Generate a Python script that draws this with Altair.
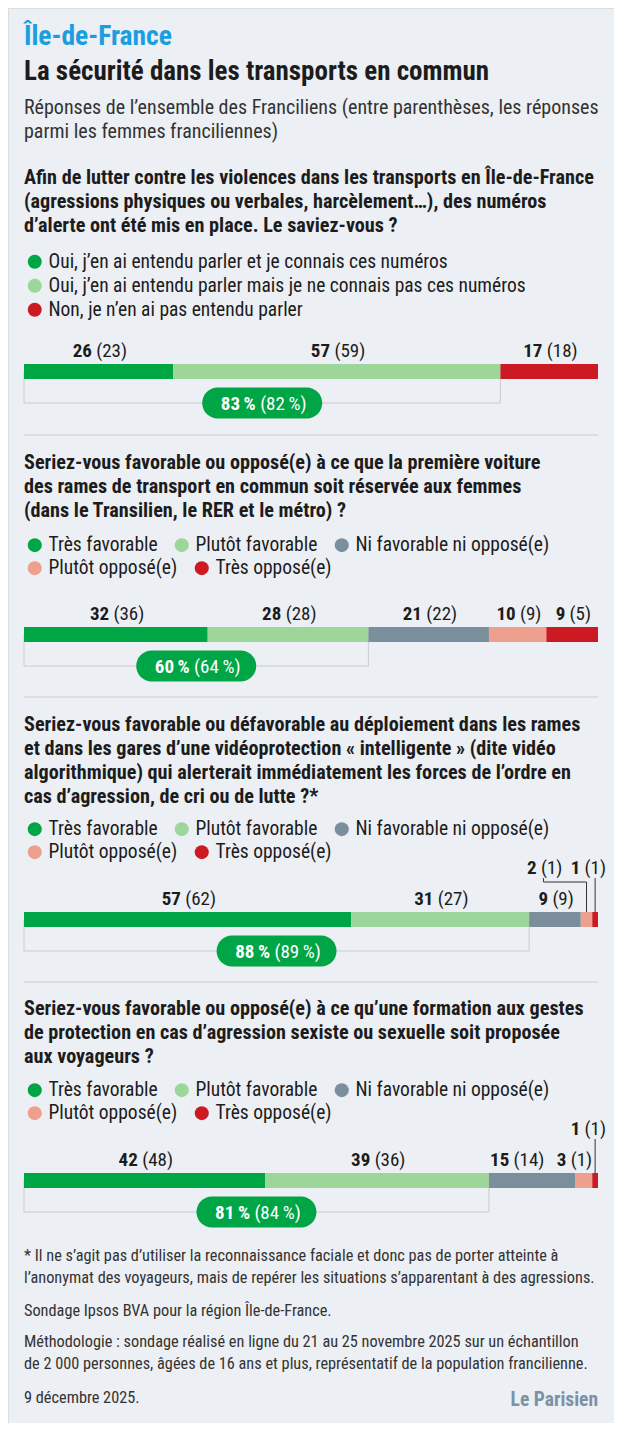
import altair as alt
import pandas as pd

FONT = "Roboto Condensed, Liberation Sans Narrow, DejaVu Sans Condensed, sans-serif"

# ---------------- content ----------------
kicker = "Île-de-France"
title = "La sécurité dans les transports en commun"
subtitle = ["Réponses de l’ensemble des Franciliens (entre parenthèses, les réponses",
            "parmi les femmes franciliennes)"]

questions = [
    ["Afin de lutter contre les violences dans les transports en Île-de-France",
     "(agressions physiques ou verbales, harcèlement…), des numéros",
     "d’alerte ont été mis en place. Le saviez-vous ?"],
    ["Seriez-vous favorable ou opposé(e) à ce que la première voiture",
     "des rames de transport en commun soit réservée aux femmes",
     "(dans le Transilien, le RER et le métro) ?"],
    ["Seriez-vous favorable ou défavorable au déploiement dans les rames",
     "et dans les gares d’une vidéoprotection « intelligente » (dite vidéo",
     "algorithmique) qui alerterait immédiatement les forces de l’ordre en",
     "cas d’agression, de cri ou de lutte ?*"],
    ["Seriez-vous favorable ou opposé(e) à ce qu’une formation aux gestes",
     "de protection en cas d’agression sexiste ou sexuelle soit proposée",
     "aux voyageurs ?"],
]

cats_q1 = ["Oui, j’en ai entendu parler et je connais ces numéros",
           "Oui, j’en ai entendu parler mais je ne connais pas ces numéros",
           "Non, je n’en ai pas entendu parler"]
cats_fav = ["Très favorable", "Plutôt favorable", "Ni favorable ni opposé(e)",
            "Plutôt opposé(e)", "Très opposé(e)"]
colors_q1 = ["#00a546", "#9dd69a", "#cc1a22"]
colors_fav = ["#00a546", "#9dd69a", "#7a8e9c", "#ee9f8e", "#cc1a22"]

values_all = [[26, 57, 17], [32, 28, 21, 10, 9], [57, 31, 9, 2, 1], [42, 39, 15, 3, 1]]
values_women = [[23, 59, 18], [36, 28, 22, 9, 5], [62, 27, 9, 1, 1], [48, 36, 14, 1, 1]]
total_all = [83, 60, 88, 81]
total_women = [82, 64, 89, 84]

footnote = ["* Il ne s’agit pas d’utiliser la reconnaissance faciale et donc pas de porter atteinte à",
            "l’anonymat des voyageurs, mais de repérer les situations s’apparentant à des agressions."]
source = ["Sondage Ipsos BVA pour la région Île-de-France."]
method = ["Méthodologie : sondage réalisé en ligne du 21 au 25 novembre 2025 sur un échantillon",
          "de 2 000 personnes, âgées de 16 ans et plus, représentatif de la population francilienne."]
date = ["9 décembre 2025."]
logo = ["Le Parisien"]

# ---------------- layout ----------------
W, H = 606, 1415
X0, X1 = 16, 590
PPU = (X1 - X0) / 100.0
XS = alt.Scale(domain=[0, 100], range=[X0, X1])
BG = "#eceff3"
DARK = "#1c1c1c"
GREY_TXT = "#333333"

BAR_TOP = [356, 619, 904, 1165]
Q_BASE = [176, 461, 723, 1007]
LEG_CENTER = [254, 537, 821, 1082]
LEG_ROW = 23
DIV_Y = [427, 689, 974]
BAR_H = 15
BRACKET = 39        # bracket bottom below bar top
PILL_H = 31
PILL_W = 120

LBL = 19            # value label font size
LEG_FS = 19.5
LEG_BOX = 20        # legend entry height
Q_FS = 20.2
SUB_FS = 20
FOOT_FS = 16.3

EM = {**{d: 0.5 for d in "0123456789"}, " ": 0.23, "\u2009": 0.14,
      "(": 0.26, ")": 0.26, "%": 0.64}


def tw(s, size, bold=False):
    return sum(EM.get(c, 0.5) for c in s) * size * (1.04 if bold else 1.0)


def text_block(lines, x, y, size, weight="normal", color=DARK, lh=24, align="left"):
    df = pd.DataFrame({"t": ["\n".join(lines)]})
    return alt.Chart(df).mark_text(
        align=align, baseline="alphabetic", font=FONT, fontSize=size,
        fontWeight=weight, color=color, lineBreak="\n", lineHeight=lh
    ).encode(text="t:N", x=alt.value(x), y=alt.value(y))


def split_label(num, rest, size):
    return tw(num, size, True), tw(" ", size), tw(rest, size)


def legend(ytop, vertical):
    return alt.Legend(
        orient="none", legendX=17, legendY=ytop,
        direction="vertical" if vertical else "horizontal",
        symbolType="circle", symbolSize=196, symbolStrokeWidth=0, symbolOpacity=1,
        labelFont=FONT, labelFontSize=LEG_FS, labelColor=DARK, labelOffset=4,
        columnPadding=14, rowPadding=LEG_ROW - LEG_BOX, title=None, labelLimit=0, padding=0,
    )


layers = []

# header
layers.append(text_block([kicker], X0, 37, 27.5, "bold", "#1a9ee0"))
layers.append(text_block([title], X0, 72, 27, "bold", DARK))
layers.append(text_block(subtitle, X0, 106, SUB_FS, "normal", GREY_TXT, lh=24))

for qi in range(4):
    top = BAR_TOP[qi]
    vals = values_all[qi]
    wv = values_women[qi]
    cats = cats_q1 if qi == 0 else cats_fav
    cols = colors_q1 if qi == 0 else colors_fav

    layers.append(text_block(questions[qi], X0, Q_BASE[qi], Q_FS, "bold", DARK, lh=24))

    starts, ends, acc = [], [], 0
    for v in vals:
        starts.append(acc)
        acc += v
        ends.append(acc)

    pos = vals[0] + vals[1]
    # bracket
    layers.append(
        alt.Chart(pd.DataFrame({"a": [0], "b": [pos]})).mark_rect(
            fillOpacity=0, stroke="#c8cdd3", strokeWidth=1
        ).encode(x=alt.X("a:Q", scale=XS, axis=None), x2="b:Q",
                 y=alt.value(top + 7), y2=alt.value(top + BRACKET))
    )

    # bar segments + legend (one legend row per group of categories)
    bar_df = pd.DataFrame({"cat": cats, "start": starts, "end": ends})
    if qi == 0:
        groups = [(0, len(cats), True)]
    else:
        groups = [(0, 3, False), (3, 5, False)]
    for gi, (a, b, vert) in enumerate(groups):
        ytop = LEG_CENTER[qi] + gi * LEG_ROW - LEG_BOX / 2
        layers.append(
            alt.Chart(bar_df.iloc[a:b]).mark_rect().encode(
                x=alt.X("start:Q", scale=XS, axis=None), x2="end:Q",
                y=alt.value(top), y2=alt.value(top + BAR_H),
                color=alt.Color("cat:N", scale=alt.Scale(domain=cats[a:b], range=cols[a:b]),
                                legend=legend(ytop, vert)),
            )
        )

    # value labels: in-row and raised
    inrow, raised = [], []
    for i, v in enumerate(vals):
        (raised if v <= 2 else inrow).append(i)

    r_rows = []
    limit = X1 + 6
    for i in reversed(raised):
        num, rest = str(vals[i]), "(" + str(wv[i]) + ")"
        wb, ws, wr = split_label(num, rest, LBL)
        w = wb + ws + wr
        c = X0 + (starts[i] + vals[i] / 2) * PPU
        right = min(c + w / 2, limit)
        left = right - w
        r_rows.append(dict(i=i, num=num, rest=rest, xb=left + wb, xr=left + wb + ws,
                           cx=(left + right) / 2, w=w, sx=c))
        limit = left - 10

    n_rows = []
    limit = (min(r["sx"] for r in r_rows) - 5) if r_rows else X1 + 2
    for i in reversed(inrow):
        num, rest = str(vals[i]), "(" + str(wv[i]) + ")"
        wb, ws, wr = split_label(num, rest, LBL)
        w = wb + ws + wr
        c = X0 + (starts[i] + vals[i] / 2) * PPU
        right = min(c + w / 2, limit)
        left = right - w
        n_rows.append(dict(num=num, rest=rest, xb=left + wb, xr=left + wb + ws))
        limit = left - 14

    for rows, yb in ((n_rows, top - 7), (r_rows, top - 38.5)):
        if not rows:
            continue
        df = pd.DataFrame(rows)
        df["xb"] = (df["xb"] - X0) / PPU
        df["xr"] = (df["xr"] - X0) / PPU
        layers.append(alt.Chart(df).mark_text(
            align="right", baseline="alphabetic", font=FONT, fontSize=LBL,
            fontWeight="bold", color=DARK
        ).encode(x=alt.X("xb:Q", scale=XS, axis=None), y=alt.value(yb), text="num:N"))
        layers.append(alt.Chart(df).mark_text(
            align="left", baseline="alphabetic", font=FONT, fontSize=LBL,
            fontWeight="normal", color=DARK
        ).encode(x=alt.X("xr:Q", scale=XS, axis=None), y=alt.value(yb), text="rest:N"))

    # leader lines for raised labels
    straight, elbows = [], []
    for r in r_rows:
        if abs(r["sx"] - r["cx"]) < r["w"] / 2 - 2:
            straight.append(dict(x=(r["sx"] - X0) / PPU))
        else:
            elbows.append(dict(a=(r["cx"] - X0) / PPU, b=(r["sx"] - X0) / PPU))
    y_start, y_elbow = top - 34, top - 30
    if straight:
        layers.append(alt.Chart(pd.DataFrame(straight)).mark_rule(color="#333", strokeWidth=1).encode(
            x=alt.X("x:Q", scale=XS, axis=None), y=alt.value(y_start), y2=alt.value(top)))
    if elbows:
        edf = pd.DataFrame(elbows)
        layers.append(alt.Chart(edf).mark_rule(color="#333", strokeWidth=1).encode(
            x=alt.X("a:Q", scale=XS, axis=None), y=alt.value(y_start), y2=alt.value(y_elbow)))
        layers.append(alt.Chart(edf).mark_rule(color="#333", strokeWidth=1).encode(
            x=alt.X("a:Q", scale=XS, axis=None), x2="b:Q", y=alt.value(y_elbow)))
        layers.append(alt.Chart(edf).mark_rule(color="#333", strokeWidth=1).encode(
            x=alt.X("b:Q", scale=XS, axis=None), y=alt.value(y_elbow), y2=alt.value(top)))

    # pill
    pc = pos / 2
    pyc = top + BRACKET
    hw = PILL_W / 2 / PPU
    layers.append(alt.Chart(pd.DataFrame({"p0": [pc - hw], "p1": [pc + hw]})).mark_rect(
        color="#00a546", cornerRadius=PILL_H / 2
    ).encode(x=alt.X("p0:Q", scale=XS, axis=None), x2="p1:Q",
             y=alt.value(pyc - PILL_H / 2), y2=alt.value(pyc + PILL_H / 2)))
    pnum = str(total_all[qi]) + "\u2009%"
    prest = "(" + str(total_women[qi]) + "\u2009%)"
    wb, ws, wr = split_label(pnum, prest, LBL)
    cpx = X0 + pc * PPU
    left = cpx - (wb + ws + wr) / 2
    pdf = pd.DataFrame({"num": [pnum], "rest": [prest],
                        "xb": [(left + wb - X0) / PPU], "xr": [(left + wb + ws - X0) / PPU]})
    layers.append(alt.Chart(pdf).mark_text(
        align="right", baseline="alphabetic", font=FONT, fontSize=LBL, fontWeight="bold", color="white"
    ).encode(x=alt.X("xb:Q", scale=XS, axis=None), y=alt.value(pyc + 6.5), text="num:N"))
    layers.append(alt.Chart(pdf).mark_text(
        align="left", baseline="alphabetic", font=FONT, fontSize=LBL, fontWeight="normal", color="white"
    ).encode(x=alt.X("xr:Q", scale=XS, axis=None), y=alt.value(pyc + 6.5), text="rest:N"))

    # divider
    if qi < 3:
        layers.append(alt.Chart(pd.DataFrame({"a": [0], "b": [100]})).mark_rule(
            color="#d3d8de", strokeWidth=1.5
        ).encode(x=alt.X("a:Q", scale=XS, axis=None), x2="b:Q", y=alt.value(DIV_Y[qi])))

# footer
layers.append(text_block(footnote, X0, 1253, FOOT_FS, "normal", GREY_TXT, lh=22))
layers.append(text_block(source, X0, 1308, FOOT_FS, "normal", GREY_TXT))
layers.append(text_block(method, X0, 1339, FOOT_FS, "normal", GREY_TXT, lh=22))
layers.append(text_block(date, X0, 1395, FOOT_FS, "normal", GREY_TXT))
layers.append(text_block(logo, X1, 1398, 19.5, "bold", "#7b92a6", align="right"))

chart = alt.layer(*layers).resolve_scale(color="independent").properties(
    width=W, height=H, padding=0, background=BG,
    autosize=alt.AutoSizeParams(type="none"),
).configure_view(strokeWidth=0).configure(font=FONT)

chart.save("out.html", embed_options={"renderer": "svg", "actions": False})
